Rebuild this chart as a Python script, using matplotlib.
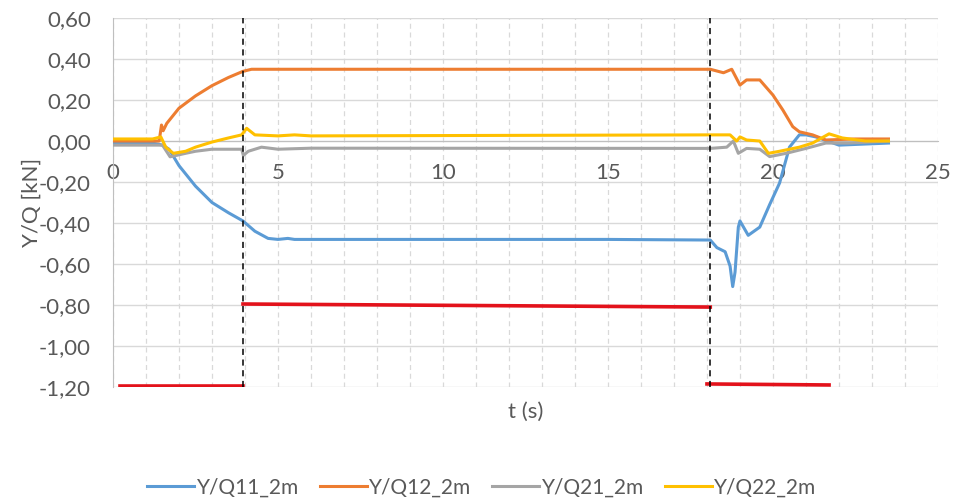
import matplotlib.pyplot as plt
from matplotlib.ticker import FuncFormatter, MultipleLocator

plt.rcParams['font.family'] = ['Lato', 'DejaVu Sans']

t_q11 = [0, 1.2, 1.5, 1.7, 2.0, 2.5, 3.0, 3.5, 3.94, 4.3, 4.7, 5.0, 5.3, 5.5, 6.0, 10,
         15, 18.1, 18.3, 18.55, 18.7, 18.78, 18.85, 18.95, 19.0, 19.25, 19.6, 19.9,
         20.2, 20.5, 20.8, 21.0, 21.3, 22.0, 23.5]
y_q11 = [-0.01, -0.01, -0.02, -0.04, -0.12, -0.22, -0.30, -0.35, -0.39, -0.44, -0.475,
         -0.48, -0.475, -0.48, -0.48, -0.48, -0.48, -0.483, -0.52, -0.54, -0.61, -0.71,
         -0.64, -0.42, -0.39, -0.46, -0.42, -0.31, -0.205, -0.03, 0.03, 0.03, 0.02,
         -0.02, -0.01]

t_q12 = [0, 1.4, 1.47, 1.52, 1.63, 2.0, 2.5, 3.0, 3.5, 3.94, 4.2, 10, 18.1, 18.5,
         18.75, 19.0, 19.2, 19.6, 20.0, 20.3, 20.6, 20.8, 21.2, 21.6, 22.5, 23.5]
y_q12 = [0.0, 0.0, 0.078, 0.05, 0.086, 0.16, 0.22, 0.27, 0.31, 0.34, 0.35, 0.35, 0.35,
         0.333, 0.35, 0.273, 0.298, 0.298, 0.224, 0.151, 0.07, 0.045, 0.03, 0.005,
         0.01, 0.01]

t_q21 = [0, 1.5, 1.73, 2.2, 2.5, 3.0, 3.9, 3.95, 4.1, 4.5, 5.0, 6.0, 18.1, 18.6, 18.8,
         18.95, 19.2, 19.6, 19.9, 20.4, 21.0, 21.6, 22.3, 23.5]
y_q21 = [-0.02, -0.02, -0.077, -0.06, -0.05, -0.04, -0.04, -0.07, -0.05, -0.03, -0.04,
         -0.035, -0.036, -0.03, 0.0, -0.06, -0.036, -0.04, -0.076, -0.06, -0.036, -0.01,
         -0.01, 0.0]

t_q22 = [0, 1.2, 1.45, 1.6, 1.83, 2.2, 2.5, 3.0, 3.5, 3.9, 4.05, 4.3, 5.0, 5.5, 6.0,
         18.1, 18.7, 18.9, 19.0, 19.2, 19.6, 19.86, 20.2, 20.8, 21.2, 21.7, 22.1, 22.8,
         23.5]
y_q22 = [0.01, 0.01, 0.02, -0.03, -0.06, -0.05, -0.03, -0.005, 0.015, 0.03, 0.062,
         0.03, 0.025, 0.03, 0.025, 0.03, 0.03, 0.0, 0.02, 0.005, 0.0, -0.06, -0.05,
         -0.03, -0.01, 0.035, 0.015, 0.0, 0.0]

# red step segments (t_start, t_end, y_start, y_end)
red_segments = [(0.2, 3.94, -1.195, -1.195),
                (3.94, 18.1, -0.795, -0.81),
                (18.0, 21.7, -1.185, -1.19)]
phase_marks = [3.94, 18.1]

series = [
    ("Y/Q11_2m", t_q11, y_q11, "#5B9BD5"),
    ("Y/Q12_2m", t_q12, y_q12, "#ED7D31"),
    ("Y/Q21_2m", t_q21, y_q21, "#A5A5A5"),
    ("Y/Q22_2m", t_q22, y_q22, "#FFC000"),
]

fig = plt.figure(figsize=(9.64, 4.99), dpi=100)
ax = fig.add_axes([0.1172, 0.2244, 0.8558, 0.7395])

for label, t, y, color in series:
    ax.plot(t, y, color=color, lw=2.2, label=label, zorder=3)

for t0, t1, y0, y1 in red_segments:
    ax.plot([t0, t1], [y0, y1], color="#E3121B", lw=2.6, zorder=4)

for tm in phase_marks:
    ax.axvline(tm, color="black", lw=1.1, ls=(0, (4, 3)), zorder=5)

ax.set_xlim(0, 25)
ax.set_ylim(-1.2, 0.6)
ax.xaxis.set_major_locator(MultipleLocator(5))
ax.xaxis.set_minor_locator(MultipleLocator(1))
ax.yaxis.set_major_locator(MultipleLocator(0.2))
ax.yaxis.set_major_formatter(FuncFormatter(lambda v, p: f"{v:.2f}".replace(".", ",")))

ax.grid(axis="y", color="#D9D9D9", lw=1.0)
ax.grid(axis="x", which="both", color="#D9D9D9", lw=0.9, ls=(0, (4, 3)))
ax.set_axisbelow(True)

ax.spines["top"].set_visible(False)
ax.spines["right"].set_visible(False)
ax.spines["left"].set_color("#BFBFBF")
ax.spines["bottom"].set_position(("data", 0))
ax.spines["bottom"].set_color("#BFBFBF")
ax.tick_params(axis="both", which="both", length=0, labelsize=16, colors="#595959")
ax.tick_params(axis="x", pad=16)
ax.tick_params(axis="y", pad=16)

ax.set_ylabel("Y/Q [kN]", fontsize=16, color="#595959")
ax.yaxis.set_label_coords(-0.087, 0.5)
fig.text(0.545, 0.175, "t (s)", fontsize=16, color="#595959", ha="center", va="center")

fig.legend(loc="lower center", bbox_to_anchor=(0.5, -0.034), ncol=4, frameon=False,
           fontsize=15, handlelength=2.25, columnspacing=1.0, handletextpad=0.12,
           labelcolor="#595959")

fig.savefig("out.png", dpi=100)
